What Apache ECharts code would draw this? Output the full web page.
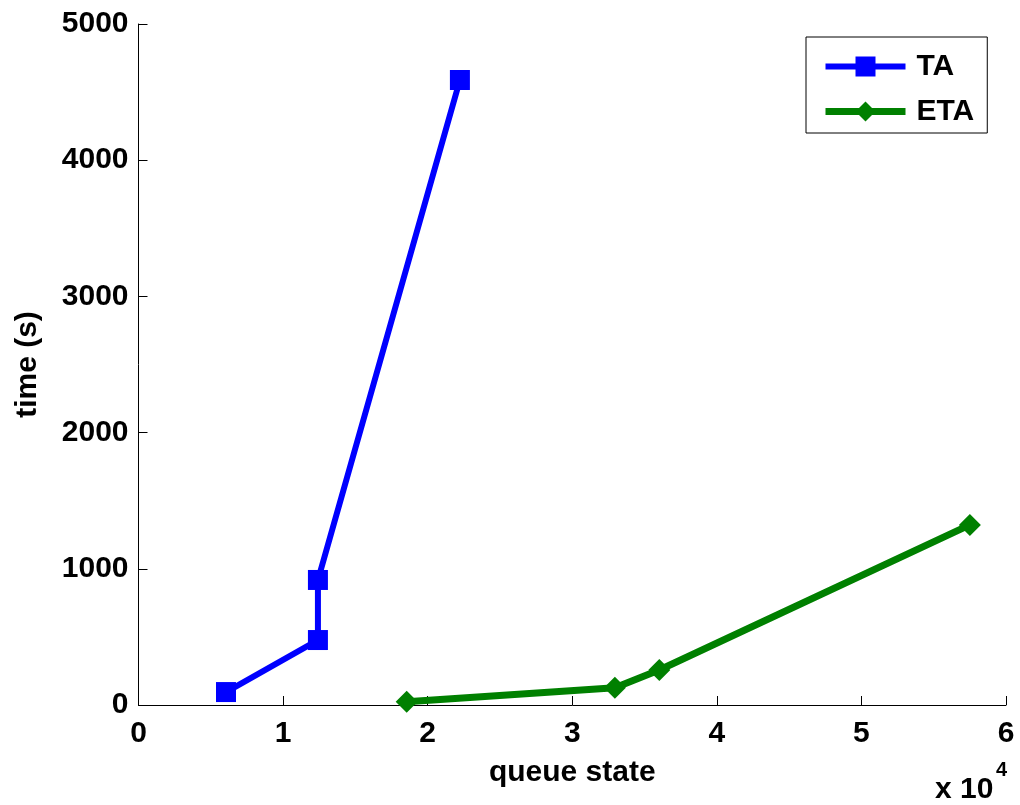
<!DOCTYPE html>
<html>
<head>
<meta charset="utf-8">
<script src="https://cdn.jsdelivr.net/npm/echarts@6/dist/echarts.min.js"></script>
<style>
  html, body { margin: 0; padding: 0; background: #fff; }
  #chart { width: 1020px; height: 805px; }
</style>
</head>
<body>
<div id="chart"></div>
<script>
// queue state (raw counts) and run time in seconds for each algorithm
const taQueue = [6050, 12410, 12410, 22230];
const taTime = [95, 477, 918, 4589];
const etaQueue = [18550, 32950, 36020, 57500];
const etaTime = [24, 127, 257, 1322];

const xTicks = [0, 10000, 20000, 30000, 40000, 50000, 60000];
const yTicks = [0, 1000, 2000, 3000, 4000, 5000];
const xScale = 10000; // tick labels are shown in units of 10^4

const FONT = '"Liberation Sans", Arial, Helvetica, sans-serif';

const pairs = (xs, ys) => xs.map((x, i) => [x, ys[i]]);

const chart = echarts.init(document.getElementById('chart'), null, { renderer: 'canvas' });

const axisCommon = {
  axisLine: { show: true, lineStyle: { color: '#000', width: 1 } },
  axisTick: { show: true, inside: true, length: 9, lineStyle: { color: '#000', width: 1 } },
  splitLine: { show: false },
  nameTextStyle: { fontFamily: FONT, fontWeight: 'bold', fontSize: 30, color: '#000' }
};

chart.setOption({
  animation: false,
  backgroundColor: '#fff',
  grid: { left: 138.5, right: 14, top: 24, bottom: 100, containLabel: false },
  xAxis: Object.assign({}, axisCommon, {
    type: 'value',
    min: xTicks[0],
    max: xTicks[xTicks.length - 1],
    interval: xTicks[1] - xTicks[0],
    name: 'queue state',
    nameLocation: 'middle',
    nameGap: 53,
    axisLabel: {
      margin: 14,
      fontFamily: FONT, fontWeight: 'bold', fontSize: 30, color: '#000',
      formatter: v => String(v / xScale)
    }
  }),
  yAxis: Object.assign({}, axisCommon, {
    type: 'value',
    min: yTicks[0],
    max: yTicks[yTicks.length - 1],
    interval: yTicks[1] - yTicks[0],
    name: 'time (s)',
    nameLocation: 'middle',
    nameGap: 96,
    axisLabel: {
      margin: 10,
      fontFamily: FONT, fontWeight: 'bold', fontSize: 30, color: '#000',
      formatter: v => String(v)
    }
  }),
  legend: {
    left: 806,
    top: 37,
    orient: 'vertical',
    padding: [14.5, 13, 6.5, 16],
    itemGap: 15,
    itemWidth: 80,
    itemHeight: 25,
    borderColor: '#000',
    borderWidth: 1,
    borderRadius: 0,
    backgroundColor: '#fff',
    lineStyle: { width: 'inherit' },
    textStyle: { fontFamily: FONT, fontWeight: 'bold', fontSize: 30, color: '#000', padding: [0, 0, 0, 6] },
    data: ['TA', 'ETA']
  },
  graphic: [
    {
      type: 'text',
      style: {
        x: 935, y: 790,
        text: 'x 10',
        verticalAlign: 'middle',
        fontFamily: FONT, fontWeight: 'bold', fontSize: 30, fill: '#000'
      }
    },
    {
      type: 'text',
      style: {
        x: 996, y: 770,
        text: '4',
        verticalAlign: 'middle',
        fontFamily: FONT, fontWeight: 'bold', fontSize: 20, fill: '#000'
      }
    }
  ],
  series: [
    {
      name: 'TA',
      type: 'line',
      data: pairs(taQueue, taTime),
      symbol: 'rect',
      symbolSize: 20,
      lineStyle: { color: '#0000ff', width: 6 },
      itemStyle: { color: '#0000ff' }
    },
    {
      name: 'ETA',
      type: 'line',
      data: pairs(etaQueue, etaTime),
      symbol: 'diamond',
      symbolSize: 22,
      lineStyle: { color: '#008000', width: 7 },
      itemStyle: { color: '#008000' }
    }
  ]
});
</script>
</body>
</html>
